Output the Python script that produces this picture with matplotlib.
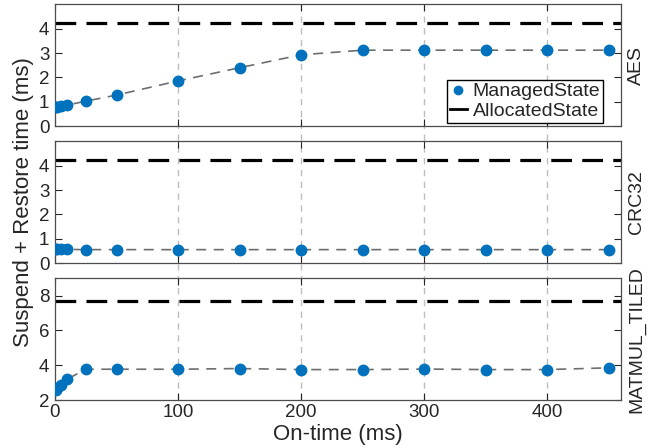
import matplotlib
matplotlib.use("Agg")
import matplotlib.pyplot as plt
from matplotlib.lines import Line2D

plt.rcParams['font.family'] = ['Liberation Sans', 'DejaVu Sans']

on_time = [1, 2, 5, 10, 25, 50, 100, 150, 200, 250, 300, 350, 400, 450]
aes_managed = [0.80, 0.81, 0.83, 0.87, 1.03, 1.28, 1.86, 2.40, 2.93, 3.12, 3.12, 3.12, 3.12, 3.12]
crc_managed = [0.57, 0.57, 0.57, 0.57, 0.56, 0.56, 0.56, 0.56, 0.56, 0.56, 0.56, 0.56, 0.56, 0.56]
mat_managed = [2.55, 2.70, 2.85, 3.20, 3.77, 3.77, 3.77, 3.81, 3.75, 3.75, 3.78, 3.75, 3.75, 3.85]
allocated = {'AES': 4.25, 'CRC32': 4.25, 'MATMUL_TILED': 7.68}
panels = ['AES', 'CRC32', 'MATMUL_TILED']
managed = {'AES': aes_managed, 'CRC32': crc_managed, 'MATMUL_TILED': mat_managed}
ylims = {'AES': (0, 5), 'CRC32': (0, 5), 'MATMUL_TILED': (2, 9)}
yticks = {'AES': [0, 1, 2, 3, 4], 'CRC32': [0, 1, 2, 3, 4], 'MATMUL_TILED': [2, 4, 6, 8]}
xticks = [0, 100, 200, 300, 400]
xlim = (0, 460)

W, H = 661, 448
fig = plt.figure(figsize=(W / 100, H / 100), dpi=100)

left = 55 / W
width = 566 / W
tops = [4.3, 141.3, 278.3]
bots = [126.3, 263.3, 400.0]

axc = '#262626'
blue = '#0072BD'

# background axes for vertical grid lines spanning panels and gaps
bg = fig.add_axes([left, 1 - bots[2] / H, width, (bots[2] - tops[0]) / H], zorder=0)
bg.set_xlim(*xlim)
bg.set_ylim(0, 1)
bg.axis('off')
for xv in xticks[1:]:
    bg.axvline(xv, color='#bdbdbd', lw=1.0, linestyle=(0, (4.5, 4)))

axes = []
for i, name in enumerate(panels):
    ax = fig.add_axes([left, 1 - bots[i] / H, width, (bots[i] - tops[i]) / H], zorder=1)
    ax.patch.set_alpha(0)
    ax.set_xlim(*xlim)
    ax.set_ylim(*ylims[name])
    ax.set_yticks(yticks[name])
    ax.set_xticks(xticks)
    ax.axhline(allocated[name], color='black', lw=2.3, linestyle=(0, (6.5, 3.2)), zorder=2)
    ax.plot(on_time, managed[name], color='#6e6e6e', lw=1.2, linestyle=(0, (6, 4.5)), zorder=2)
    ax.plot(on_time, managed[name], linestyle='none', marker='o', ms=7.5,
            color=blue, zorder=3)
    ax.tick_params(direction='in', top=True, right=True, length=5, width=0.8,
                   colors=axc, labelsize=13.5)
    ax.tick_params(axis='y', pad=4)
    ax.tick_params(axis='x', pad=3)
    if i < 2:
        ax.tick_params(labelbottom=False)
    for s in ax.spines.values():
        s.set_color('#4d4d4d')
        s.set_linewidth(0.9)
    ax.text(1.012, 0.5, name, transform=ax.transAxes, rotation=90,
            ha='left', va='center', fontsize=14, color=axc)
    axes.append(ax)

handles = [Line2D([], [], linestyle='none', marker='o', ms=6, color=blue),
           Line2D([], [], color='black', lw=2)]
leg = axes[0].legend(handles, ['ManagedState', 'AllocatedState'], loc='lower right',
                     bbox_to_anchor=(1 - 18 / 566, 3.5 / 122), fontsize=14,
                     frameon=True, fancybox=False, handlelength=0.85, handletextpad=0.3,
                     borderpad=0.15, labelspacing=0.1, borderaxespad=0, framealpha=1)
leg.get_frame().set_edgecolor('black')
leg.get_frame().set_linewidth(1.0)
for t in leg.get_texts():
    t.set_color(axc)

axes[2].set_xlabel('On-time (ms)', fontsize=16, color=axc, labelpad=2)
fig.text(24 / W, 1 - 202 / H, 'Suspend + Restore time (ms)', rotation=90,
         ha='center', va='center', fontsize=16, color=axc)

fig.savefig('out.png', dpi=100)
